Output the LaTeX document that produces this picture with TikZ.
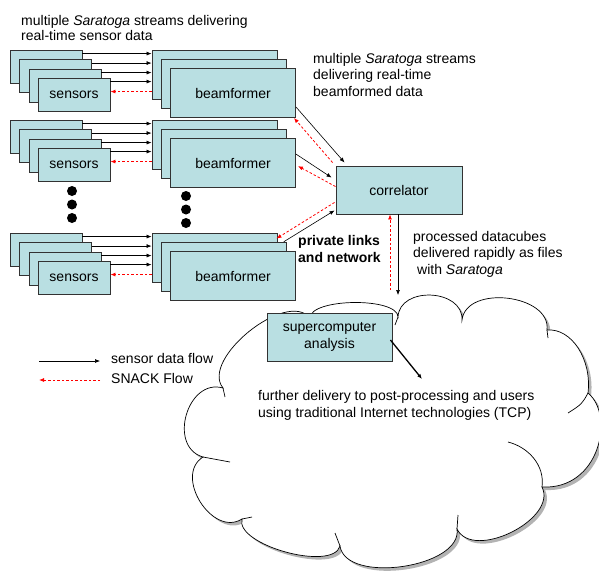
\documentclass[tikz,border=0pt]{standalone}
\usepackage{fontspec}
\setmainfont{Liberation Sans}
\usetikzlibrary{arrows.meta,shadows}

\definecolor{boxfill}{RGB}{185,223,226}
\definecolor{boxline}{RGB}{50,50,50}

\begin{document}
\begin{tikzpicture}[x=1pt,y=-1pt,
  font=\fontsize{14pt}{16.5pt}\selectfont,
  sbox/.style={draw=boxline, line width=0.9pt, fill=boxfill, minimum width=72pt, minimum height=33pt, inner sep=0pt},
  bbox/.style={sbox, minimum width=125pt, minimum height=49pt},
  cbox/.style={sbox, minimum width=126pt, minimum height=48pt, align=center},
  flow/.style={-{Latex[length=5pt,width=4pt]}, line width=0.6pt},
  snack/.style={-{Latex[length=5pt,width=4pt]}, red, line width=0.8pt, dash pattern=on 2.5pt off 2pt},
  lbl/.style={anchor=north west, inner sep=0pt, align=left}]
\useasboundingbox (0,0) rectangle (599,570);

% the cloud
\draw[line width=0.7pt, fill=white, drop shadow={shadow xshift=3pt, shadow yshift=-3pt, opacity=0.6}]
  (223,388) .. controls (199.8,359.2) and (286.8,289.2) .. (310,318)
  .. controls (310,298) and (398,297) .. (398,317)
  .. controls (399.5,285.8) and (463.5,288.8) .. (462,320)
  .. controls (466.2,284.3) and (551.2,294.3) .. (547,330)
  .. controls (572,328) and (592,360) .. (588,393)
  .. controls (615,415) and (600,490) .. (542,487)
  .. controls (557.9,519.3) and (472.9,561.3) .. (457,529)
  .. controls (462.6,567.6) and (345.6,584.6) .. (340,546)
  .. controls (332.8,572) and (234.8,545) .. (242,519)
  .. controls (212.4,537.7) and (173.4,475.7) .. (203,457)
  .. controls (167.4,446.7) and (187.4,377.7) .. (223,388) -- cycle;
\draw[line width=0.7pt] (223,388) -- (225,397);
\draw[line width=0.7pt] (398,317) -- (395,325);
\draw[line width=0.7pt] (547,330) -- (548,338);
\draw[line width=0.7pt] (588,393) .. controls (582,404) .. (568,413);
\draw[line width=0.7pt] (542,487) .. controls (545,465) and (528,447) .. (508,442);
\draw[line width=0.7pt] (457,529) -- (458,515);
\draw[line width=0.7pt] (340,546) -- (335,533);
\draw[line width=0.7pt] (242,519) -- (252,517);
\draw[line width=0.7pt] (203,457) -- (230,462);

\node[sbox] (s1a) at (46,66.5) {};
\node[sbox] (s1b) at (55.5,76) {};
\node[sbox] (s1c) at (65,85.5) {};
\node[sbox] (s1d) at (74,94.5) {sensors};
\node[bbox] (b1a) at (214.5,74.5) {};
\node[bbox] (b1b) at (223.75,83.75) {};
\node[bbox] (b1c) at (233,93) {beamformer};
\draw[flow] ([yshift=-4pt]s1a.north east) -- ([yshift=-4pt]s1a.north east -| b1a.west);
\draw[flow] ([yshift=-4pt]s1b.north east) -- ([yshift=-4pt]s1b.north east -| b1a.west);
\draw[flow] ([yshift=-4pt]s1c.north east) -- ([yshift=-4pt]s1c.north east -| b1a.west);
\draw[flow] ([yshift=-4pt]s1d.north east) -- ([yshift=-4pt]s1d.north east -| b1a.west);
\draw[snack] ([yshift=-14pt]s1d.north east -| b1a.west) -- ([yshift=-14pt]s1d.north east);

\node[sbox] (s2a) at (46,136.5) {};
\node[sbox] (s2b) at (55.5,146) {};
\node[sbox] (s2c) at (65,155.5) {};
\node[sbox] (s2d) at (74,164.5) {sensors};
\node[bbox] (b2a) at (214.5,144.5) {};
\node[bbox] (b2b) at (223.75,153.75) {};
\node[bbox] (b2c) at (233,163) {beamformer};
\draw[flow] ([yshift=-4pt]s2a.north east) -- ([yshift=-4pt]s2a.north east -| b2a.west);
\draw[flow] ([yshift=-4pt]s2b.north east) -- ([yshift=-4pt]s2b.north east -| b2a.west);
\draw[flow] ([yshift=-4pt]s2c.north east) -- ([yshift=-4pt]s2c.north east -| b2a.west);
\draw[flow] ([yshift=-4pt]s2d.north east) -- ([yshift=-4pt]s2d.north east -| b2a.west);
\draw[snack] ([yshift=-14pt]s2d.north east -| b2a.west) -- ([yshift=-14pt]s2d.north east);

\fill (72,191) circle (5pt);
\fill (72,204.5) circle (5pt);
\fill (72,218) circle (5pt);
\fill (186,196) circle (5pt);
\fill (186,209.5) circle (5pt);
\fill (186,223) circle (5pt);

\node[sbox] (s3a) at (46,249.5) {};
\node[sbox] (s3b) at (55.5,259) {};
\node[sbox] (s3c) at (65,268.5) {};
\node[sbox] (s3d) at (74,277.5) {sensors};
\node[bbox] (b3a) at (214.5,257.5) {};
\node[bbox] (b3b) at (223.75,266.75) {};
\node[bbox] (b3c) at (233,276) {beamformer};
\draw[flow] ([yshift=-4pt]s3a.north east) -- ([yshift=-4pt]s3a.north east -| b3a.west);
\draw[flow] ([yshift=-4pt]s3b.north east) -- ([yshift=-4pt]s3b.north east -| b3a.west);
\draw[flow] ([yshift=-4pt]s3c.north east) -- ([yshift=-4pt]s3c.north east -| b3a.west);
\draw[flow] ([yshift=-4pt]s3d.north east) -- ([yshift=-4pt]s3d.north east -| b3a.west);
\draw[snack] ([yshift=-14pt]s3d.north east -| b3a.west) -- ([yshift=-14pt]s3d.north east);

% correlator and the links into it
\node[cbox] (cor) at (399,190) {correlator};
\draw[flow] ([yshift=11pt]b1c.south east) -- ([xshift=9pt,yshift=3pt]cor.north west);
\draw[snack] ([xshift=-3pt,yshift=3pt]cor.north west) -- ([xshift=-2pt]b1c.south east);
\draw[flow] ([yshift=-16pt]b2c.north east) -- ([xshift=-4pt,yshift=-12pt]cor.north west);
\draw[snack] ([yshift=-21pt]cor.north west) -- ([xshift=2pt,yshift=-28pt]b2c.north east);
\draw[snack] ([xshift=-1pt,yshift=12pt]cor.south west) -- ([xshift=-1pt,yshift=-6pt]b3a.north east);
\draw[flow] ([xshift=-3pt]b3b.north east) -- ([xshift=-1pt,yshift=4pt]cor.south west);

\coordinate (dcube) at (398,295);
\coordinate (dsnack) at (390,290);
\draw[flow] ([xshift=-1pt]cor.south) -- (dcube);
\draw[snack] (dsnack) -- ([xshift=-9pt]cor.south);

% supercomputer inside the cloud
\node[cbox, minimum width=125pt] (sca) at (329.5,337) {supercomputer\\analysis};
\coordinate (further) at (422,379);
\draw[flow, line width=1.3pt] ([xshift=-2pt,yshift=-3pt]sca.east) -- (further);

% texts
\node[lbl, font=\fontsize{14pt}{15.5pt}\selectfont] (ttop) at (21,15) {multiple \textit{Saratoga} streams delivering\\real-time sensor data};
\node[lbl] (tbeam) at (313,53) {multiple \textit{Saratoga} streams\\delivering real-time\\beamformed data};
\node[lbl, font=\fontsize{14pt}{17pt}\selectfont\bfseries] (tpriv) at (298,235) {private links\\and network};
\node[lbl] (tcube) at (413,231) {processed datacubes\\delivered rapidly as files\\\hspace*{4pt}with \textit{Saratoga}};
\node[lbl, font=\fontsize{14pt}{17pt}\selectfont] (tfur) at (258,390) {further delivery to post-processing and users\\using traditional Internet technologies (TCP)};

% legend
\coordinate (lf1) at (39,361);
\coordinate (lf2) at (100,361);
\coordinate (lr1) at (100,380);
\coordinate (lr2) at (39,380);
\draw[flow] (lf1) -- (lf2);
\draw[snack] (lr1) -- (lr2);
\node[anchor=base west, inner sep=0pt] (lgdata) at (111,363) {sensor data flow};
\node[anchor=base west, inner sep=0pt] (lgsnack) at (111,383) {SNACK Flow};

\end{tikzpicture}
\end{document}
